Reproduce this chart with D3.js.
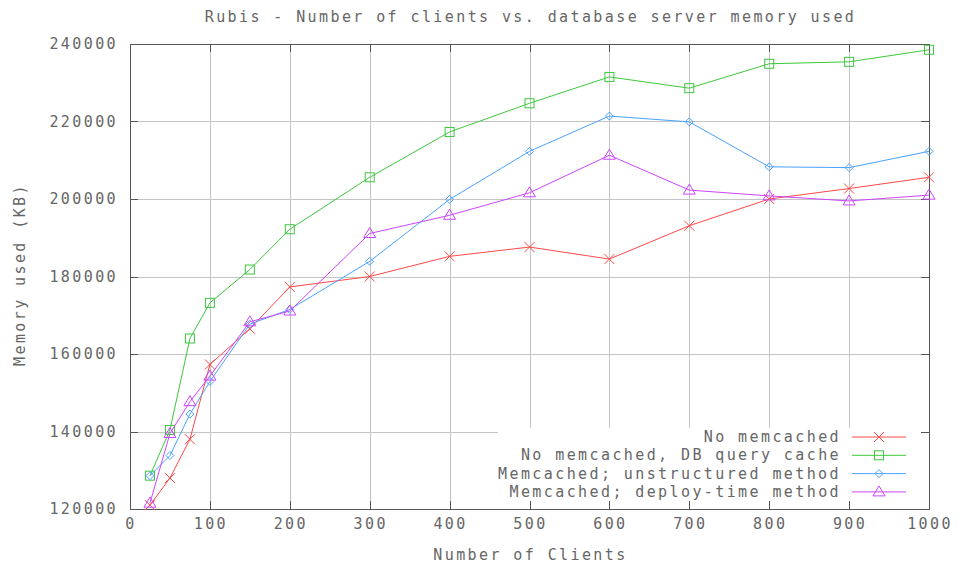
<!DOCTYPE html>
<html>
<head>
<meta charset="utf-8">
<script src="https://cdn.jsdelivr.net/npm/d3@7"></script>
<style>
    body { margin: 0; background: #fff; }
    text { font-family: "DejaVu Sans Mono", monospace; font-size: 15px; fill: #666; letter-spacing: 2.4px; }
</style>
</head>
<body>
<div id="chart"></div>
<script>
// data
const clients = [25, 50, 75, 100, 150, 200, 300, 400, 500, 600, 700, 800, 900, 1000];
const noMemcached = [121000, 128000, 138000, 157300, 166500, 177300, 180000, 185200, 187600, 184500, 193100, 200000, 202700, 205600];
const dbQueryCache = [128600, 140400, 164000, 173200, 181800, 192200, 205600, 217300, 224700, 231500, 228600, 234900, 235400, 238500];
const unstructured = [128600, 133800, 144500, 152900, 167700, 171500, 183900, 199900, 212300, 221400, 219900, 208300, 208100, 212300];
const deployTime = [121500, 139500, 147700, 154300, 168300, 171100, 191100, 195800, 201600, 211300, 202300, 200800, 199500, 201000];

const seriesNames = ["No memcached", "No memcached, DB query cache", "Memcached; unstructured method", "Memcached; deploy-time method"];
const seriesValues = [noMemcached, dbQueryCache, unstructured, deployTime];
const seriesColors = ["#ff4848", "#3cc83c", "#4aa2ff", "#cc44ff"];
const seriesMarkers = ["cross", "square", "diamond", "triangle"];

const xTicks = [0, 100, 200, 300, 400, 500, 600, 700, 800, 900, 1000];
const yTicks = [120000, 140000, 160000, 180000, 200000, 220000, 240000];

let margin = { top: 44, right: 33, bottom: 61, left: 130 };
let width = 962 - margin.left - margin.right;
let height = 570 - margin.top - margin.bottom;

let svg = d3.select("#chart")
    .append("svg")
    .attr("width", 962)
    .attr("height", 570)
    .append("g")
    .attr("transform", `translate(${margin.left},${margin.top})`);

let x = d3.scaleLinear().domain([0, 1000]).range([0, width]);
let y = d3.scaleLinear().domain([120000, 240000]).range([height, 0]);

// grid
svg.append("g").selectAll("line")
    .data(xTicks.slice(1, -1)).enter().append("line")
    .attr("x1", d => Math.round(x(d)) + 0.5).attr("x2", d => Math.round(x(d)) + 0.5)
    .attr("y1", 0).attr("y2", height)
    .attr("stroke", "#c4c4c4");
svg.append("g").selectAll("line")
    .data(yTicks.slice(1, -1)).enter().append("line")
    .attr("y1", d => Math.round(y(d)) + 0.5).attr("y2", d => Math.round(y(d)) + 0.5)
    .attr("x1", 0).attr("x2", width)
    .attr("stroke", "#c4c4c4");

// opaque key box
svg.append("rect")
    .attr("x", 368).attr("y", 384)
    .attr("width", width - 368).attr("height", height - 384)
    .attr("fill", "white");

// inward ticks on all four sides
const tickLen = 8;
let ticks = svg.append("g").attr("stroke", "#555");
xTicks.forEach(d => {
    let px = Math.round(x(d)) + 0.5;
    ticks.append("line").attr("x1", px).attr("x2", px).attr("y1", height).attr("y2", height - tickLen);
    ticks.append("line").attr("x1", px).attr("x2", px).attr("y1", 0).attr("y2", tickLen);
});
yTicks.forEach(d => {
    let py = Math.round(y(d)) + 0.5;
    ticks.append("line").attr("x1", 0).attr("x2", tickLen).attr("y1", py).attr("y2", py);
    ticks.append("line").attr("x1", width).attr("x2", width - tickLen).attr("y1", py).attr("y2", py);
});

// frame
svg.append("rect")
    .attr("x", 0.5).attr("y", 0.5)
    .attr("width", width).attr("height", height)
    .attr("fill", "none")
    .attr("stroke", "#555");

// tick labels
svg.append("g").selectAll("text")
    .data(yTicks).enter().append("text")
    .attr("x", -12)
    .attr("y", d => y(d) + 5)
    .attr("text-anchor", "end")
    .text(d => d);
svg.append("g").selectAll("text")
    .data(xTicks).enter().append("text")
    .attr("x", d => x(d) + 1)
    .attr("y", height + 20)
    .attr("text-anchor", "middle")
    .text(d => d);

// titles
svg.append("text")
    .attr("x", width / 2 + 1)
    .attr("y", -22)
    .attr("text-anchor", "middle")
    .text("Rubis - Number of clients vs. database server memory used");
svg.append("text")
    .attr("x", width / 2 + 1)
    .attr("y", height + 51)
    .attr("text-anchor", "middle")
    .text("Number of Clients");
svg.append("text")
    .attr("transform", "rotate(-90)")
    .attr("x", -(height / 2) + 2)
    .attr("y", -105)
    .attr("text-anchor", "middle")
    .text("Memory used (KB)");

function drawMarker(g, type, cx, cy, color) {
    if (type === "cross") {
        g.append("path").attr("d", `M${cx - 5},${cy - 5}L${cx + 5},${cy + 5}M${cx - 5},${cy + 5}L${cx + 5},${cy - 5}`)
            .attr("stroke", color).attr("fill", "none");
    } else if (type === "square") {
        g.append("rect").attr("x", cx - 4.5).attr("y", cy - 4.5).attr("width", 9).attr("height", 9)
            .attr("stroke", color).attr("fill", "none");
    } else if (type === "diamond") {
        g.append("path").attr("d", `M${cx},${cy - 4}L${cx + 4},${cy}L${cx},${cy + 4}L${cx - 4},${cy}Z`)
            .attr("stroke", color).attr("fill", "none");
    } else {
        g.append("path").attr("d", `M${cx},${cy - 6}L${cx + 6},${cy + 4}L${cx - 6},${cy + 4}Z`)
            .attr("stroke", color).attr("fill", "none");
    }
}

let line = d3.line().x(d => x(d[0])).y(d => y(d[1]));

seriesValues.forEach((vals, i) => {
    let pts = clients.map((c, j) => [c, vals[j]]);
    let g = svg.append("g");
    g.append("path")
        .datum(pts)
        .attr("d", line)
        .attr("fill", "none")
        .attr("stroke", seriesColors[i])
        .attr("stroke-width", 1);
    pts.forEach(p => drawMarker(g, seriesMarkers[i], x(p[0]), y(p[1]), seriesColors[i]));
});

// legend
let legend = svg.append("g").attr("transform", "translate(0, 0)");
seriesNames.forEach((name, i) => {
    let ly = 393 + i * 18.3;
    legend.append("text")
        .attr("x", 711)
        .attr("y", ly + 5)
        .attr("text-anchor", "end")
        .text(name);
    legend.append("line")
        .attr("x1", 722).attr("x2", 776)
        .attr("y1", ly).attr("y2", ly)
        .attr("stroke", seriesColors[i]);
    drawMarker(legend, seriesMarkers[i], 749, ly, seriesColors[i]);
});
</script>
</body>
</html>
